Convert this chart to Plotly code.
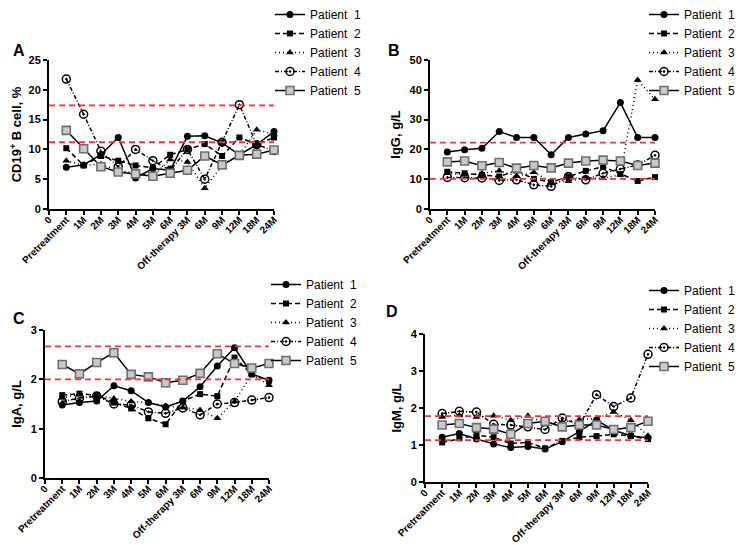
import plotly.graph_objects as go

# ---------------- data ----------------
x_pos = list(range(1, 14))
tick_vals = list(range(0, 14))
tick_text = ["0", "Pretreatment", "1M", "2M", "3M", "4M", "5M", "6M",
             "Off-therapy 3M", "6M", "9M", "12M", "18M", "24M"]
patients = ["Patient 1", "Patient 2", "Patient 3", "Patient 4", "Patient 5"]

# Panel A: CD19+ B cell, %
cd19_p1 = [7.0, 7.4, 9.1, 12.0, 5.2, 6.8, 6.5, 12.2, 12.3, 11.1, 9.1, 10.8, 13.0]
cd19_p2 = [10.2, 7.3, 8.9, 8.1, 7.3, 6.9, 9.1, 10.0, 10.9, 8.9, 12.0, 10.8, 12.0]
cd19_p3 = [8.1, 7.3, 7.5, 6.5, 6.0, 5.5, 8.3, 7.9, 3.5, 7.3, 9.0, 13.3, 12.5]
cd19_p4 = [21.8, 15.9, 9.7, 7.1, 10.0, 8.1, 6.5, 10.0, 5.0, 11.2, 17.5, 10.8, 9.8]
cd19_p5 = [13.2, 10.1, 7.1, 6.2, 5.9, 5.5, 6.0, 6.5, 8.9, 7.4, 9.0, 9.2, 9.9]
cd19_ref = [17.4, 11.2]

# Panel B: IgG, g/L
igg_p1 = [19.1, 19.9, 20.4, 26.0, 24.0, 24.0, 18.2, 24.0, 25.2, 26.3, 35.7, 24.0, 24.0]
igg_p2 = [12.5, 12.0, 11.4, 10.9, 12.9, 10.1, 9.0, 10.9, 12.8, 14.2, 11.7, 9.4, 10.7]
igg_p3 = [12.0, 11.5, 12.0, 12.8, 11.0, 12.3, 9.0, 9.3, 10.5, 10.3, 11.5, 43.3, 36.8]
igg_p4 = [10.6, 10.5, 10.4, 9.6, 9.8, 8.1, 7.6, 10.9, 9.8, 12.0, 13.4, 14.8, 18.0]
igg_p5 = [15.8, 16.1, 14.5, 15.6, 13.7, 14.6, 13.8, 15.4, 16.1, 16.4, 16.1, 14.6, 15.4]
igg_ref = [22.3, 10.1]

# Panel C: IgA, g/L
iga_p1 = [1.48, 1.53, 1.56, 1.87, 1.77, 1.53, 1.44, 1.56, 1.85, 2.27, 2.64, 2.11, 1.98]
iga_p2 = [1.68, 1.71, 1.68, 1.53, 1.41, 1.21, 1.09, 1.56, 1.70, 1.66, 2.44, 2.10, 1.97]
iga_p3 = [1.62, 1.70, 1.68, 1.61, 1.55, 1.53, 1.46, 1.43, 1.38, 1.21, 1.55, 2.10, 1.88]
iga_p4 = [1.55, 1.62, 1.66, 1.50, 1.48, 1.34, 1.31, 1.42, 1.28, 1.50, 1.53, 1.58, 1.63]
iga_p5 = [2.30, 2.11, 2.34, 2.54, 2.10, 2.05, 1.93, 1.98, 2.12, 2.52, 2.32, 2.23, 2.32]
iga_ref = [2.67, 2.0]

# Panel D: IgM, g/L
igm_p1 = [1.21, 1.31, 1.16, 1.03, 0.93, 0.96, 0.89, 1.09, 1.36, 1.67, 1.40, 1.25, 1.19]
igm_p2 = [1.07, 1.18, 1.27, 1.21, 1.04, 1.07, 0.91, 1.11, 1.21, 1.24, 1.29, 1.24, 1.16]
igm_p3 = [1.76, 1.80, 1.76, 1.79, 1.67, 1.79, 1.58, 1.63, 1.69, 1.72, 1.89, 1.67, 1.25]
igm_p4 = [1.85, 1.91, 1.89, 1.56, 1.54, 1.49, 1.42, 1.73, 1.54, 2.36, 2.04, 2.27, 3.45]
igm_p5 = [1.54, 1.58, 1.47, 1.43, 1.29, 1.58, 1.64, 1.49, 1.54, 1.54, 1.42, 1.47, 1.64]
igm_ref = [1.78, 1.13]

# ---------------- styles ----------------
W, H = 745, 545
FONT = "Arial, Liberation Sans, sans-serif"

styles = [
    dict(line=dict(color="black", width=1.5, dash="solid"),
         marker=dict(symbol="circle", size=7, color="black")),
    dict(line=dict(color="black", width=1.5, dash="5px,3px"),
         marker=dict(symbol="square", size=6, color="black")),
    dict(line=dict(color="black", width=1.5, dash="1px,3px"),
         marker=dict(symbol="triangle-up", size=7, color="black")),
    dict(line=dict(color="black", width=1.5, dash="4px,2px,1px,2px"),
         marker=dict(symbol="circle-open-dot", size=8, color="black",
                     line=dict(width=1.5, color="black"))),
    dict(line=dict(color="black", width=1.5, dash="solid"),
         marker=dict(symbol="square", size=8, color="#c8c8c8",
                     line=dict(width=1.6, color="#707070"))),
]

panels = [
    dict(data=[cd19_p1, cd19_p2, cd19_p3, cd19_p4, cd19_p5], ref=cd19_ref,
         yr=[0, 25], dt=5, title="CD19<sup>+</sup> B cell, %",
         dom_px=(41, 266, 52, 201), label="A", label_px=(3, 42),
         leg_px=(262, -8)),
    dict(data=[igg_p1, igg_p2, igg_p3, igg_p4, igg_p5], ref=igg_ref,
         yr=[0, 50], dt=10, title="IgG, g/L",
         dom_px=(422, 647, 52, 201), label="B", label_px=(378, 42),
         leg_px=(636, -8)),
    dict(data=[iga_p1, iga_p2, iga_p3, iga_p4, iga_p5], ref=iga_ref,
         yr=[0, 3], dt=1, title="IgA, g/L",
         dom_px=(37, 261, 322, 470), label="C", label_px=(3, 310),
         leg_px=(258, 262)),
    dict(data=[igm_p1, igm_p2, igm_p3, igm_p4, igm_p5], ref=igm_ref,
         yr=[0, 4], dt=1, title="IgM, g/L",
         dom_px=(417, 640, 326, 474), label="D", label_px=(376, 303),
         leg_px=(636, 268)),
]

fig = go.Figure()
layout = dict(width=W, height=H,
              margin=dict(l=0, r=0, t=0, b=0, pad=0, autoexpand=False),
              paper_bgcolor="white", plot_bgcolor="white",
              font=dict(family=FONT, color="black"),
              showlegend=True)
shapes = []
annotations = []

for i, p in enumerate(panels):
    n = i + 1
    xa = "x" if n == 1 else f"x{n}"
    ya = "y" if n == 1 else f"y{n}"
    lg = "legend" if n == 1 else f"legend{n}"
    x0, x1, y0, y1 = p["dom_px"]
    for j, vals in enumerate(p["data"]):
        st = styles[j]
        fig.add_trace(go.Scatter(
            x=x_pos, y=vals, mode="lines+markers",
            name=patients[j].replace(" ", "\u00a0 "),
            line=st["line"], marker=st["marker"], xaxis=xa, yaxis=ya,
            legend=lg, cliponaxis=False))
    axkw = dict(showline=True, linecolor="black", linewidth=2, ticks="outside",
                ticklen=4, tickwidth=2, tickcolor="black", showgrid=False,
                zeroline=False, mirror=False, automargin=False)
    layout[f"xaxis{'' if n == 1 else n}"] = dict(
        domain=[x0 / W, x1 / W], anchor=ya, range=[0, 13],
        tickmode="array", tickvals=tick_vals, ticktext=tick_text,
        tickangle=-45, ticklabelstandoff=-5,
        tickfont=dict(family=FONT, size=10, weight="bold"),
        **axkw)
    layout[f"yaxis{'' if n == 1 else n}"] = dict(
        domain=[1 - y1 / H, 1 - y0 / H], anchor=xa, range=p["yr"], dtick=p["dt"],
        tickfont=dict(family=FONT, size=11, weight="bold"),
        title=dict(text=p["title"], standoff=6,
                   font=dict(family=FONT, size=13, weight="bold")),
        **axkw)
    for r in p["ref"]:
        shapes.append(dict(type="line", xref=f"{xa} domain", yref=ya,
                           x0=0, x1=1, y0=r, y1=r,
                           line=dict(color="#e8383d", width=1.8, dash="6px,4px")))
    lx, ly = p["label_px"]
    annotations.append(dict(text=f"<b>{p['label']}</b>", xref="paper", yref="paper",
                            x=lx / W, y=1 - ly / H, xanchor="left", yanchor="middle",
                            showarrow=False, font=dict(family=FONT, size=16)))
    gx, gy = p["leg_px"]
    layout[lg] = dict(x=gx / W, y=1 - gy / H, xanchor="left", yanchor="top",
                      bgcolor="rgba(0,0,0,0)", itemwidth=30,
                      font=dict(family=FONT, size=12), tracegroupgap=0)

layout["shapes"] = shapes
layout["annotations"] = annotations
fig.update_layout(**layout)
fig.write_html("out.html")
